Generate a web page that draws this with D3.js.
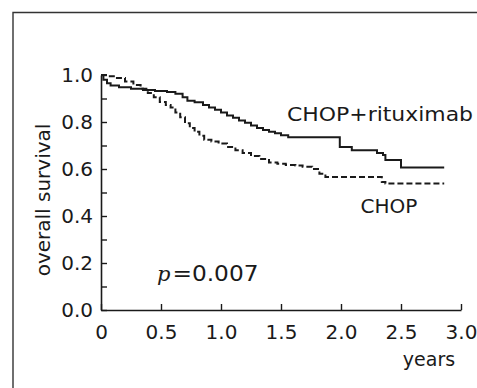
<!DOCTYPE html>
<html>
<head>
<meta charset="utf-8">
<script src="https://cdn.jsdelivr.net/npm/d3@7"></script>
<style>
  html, body { margin: 0; padding: 0; background: #fff; }
  svg { display: block; }
  text { font-family: "DejaVu Sans", sans-serif; fill: #1a1a1a; }
</style>
</head>
<body>
<svg id="chart" width="477" height="388"></svg>
<script>
// ---- data ----
const rchopTime     = [0, 0.02, 0.05, 0.08, 0.15, 0.25, 0.35, 0.45, 0.55, 0.62, 0.68, 0.72, 0.78, 0.85, 0.90, 0.95, 1.00, 1.05, 1.10, 1.15, 1.20, 1.25, 1.30, 1.35, 1.40, 1.45, 1.50, 1.56, 1.99, 2.09, 2.30, 2.35, 2.37, 2.50, 2.86];
const rchopSurvival = [1.0, 0.98, 0.965, 0.955, 0.948, 0.942, 0.936, 0.932, 0.928, 0.92, 0.905, 0.89, 0.884, 0.872, 0.862, 0.852, 0.84, 0.828, 0.818, 0.806, 0.797, 0.785, 0.775, 0.766, 0.758, 0.752, 0.744, 0.735, 0.694, 0.68, 0.668, 0.66, 0.638, 0.606, 0.606];
const chopTime      = [0, 0.05, 0.12, 0.20, 0.27, 0.33, 0.39, 0.44, 0.49, 0.54, 0.58, 0.62, 0.66, 0.70, 0.74, 0.78, 0.82, 0.86, 0.92, 0.98, 1.05, 1.12, 1.18, 1.25, 1.32, 1.40, 1.47, 1.54, 1.62, 1.68, 1.76, 1.82, 1.87, 2.34, 2.37, 2.86];
const chopSurvival  = [1.0, 0.995, 0.987, 0.972, 0.957, 0.942, 0.923, 0.905, 0.885, 0.872, 0.862, 0.84, 0.82, 0.795, 0.775, 0.758, 0.742, 0.725, 0.717, 0.708, 0.694, 0.68, 0.668, 0.655, 0.643, 0.628, 0.622, 0.617, 0.615, 0.61, 0.600, 0.58, 0.566, 0.545, 0.538, 0.538];
const xTicks = [0, 0.5, 1.0, 1.5, 2.0, 2.5, 3.0];
const xTickLabels = ["0", "0.5", "1.0", "1.5", "2.0", "2.5", "3.0"];
const yTicks = [0, 0.2, 0.4, 0.6, 0.8, 1.0];
const yTickLabels = ["0.0", "0.2", "0.4", "0.6", "0.8", "1.0"];
const yMinorTicks = [0.1, 0.3, 0.5, 0.7, 0.9];
const seriesNames = ["CHOP+rituximab", "CHOP"];
const xTitle = "years";
const yTitle = "overall survival";
const pText = "=0.007";

// ---- layout ----
const svg = d3.select("#chart");
const x = d3.scaleLinear().domain([0, 3]).range([101, 461]);
const y = d3.scaleLinear().domain([0, 1]).range([310, 75]);
const ink = "#1a1a1a";

// frame (scanned page border)
svg.append("path")
  .attr("d", "M13,388 L13,12.5 L477,12.5")
  .attr("fill", "none").attr("stroke", "#333").attr("stroke-width", 1.4);

// x axis
const xAxis = d3.axisBottom(x)
  .tickValues(xTicks)
  .tickFormat((d, i) => xTickLabels[i])
  .tickSizeInner(-6).tickSizeOuter(0).tickPadding(15);
const gx = svg.append("g").attr("transform", `translate(0,${y(0)})`).call(xAxis);
gx.select(".domain").attr("stroke", ink).attr("stroke-width", 1.6);
gx.selectAll(".tick line").attr("stroke", ink).attr("stroke-width", 1.4);
gx.selectAll(".tick text").attr("font-size", 20).attr("font-family", "DejaVu Sans").attr("fill", ink);

// y axis
const yAxis = d3.axisLeft(y)
  .tickValues(yTicks)
  .tickFormat((d, i) => yTickLabels[i])
  .tickSizeInner(-6).tickSizeOuter(0).tickPadding(8);
const gy = svg.append("g").attr("transform", `translate(${x(0)},0)`).call(yAxis);
gy.select(".domain").attr("stroke", ink).attr("stroke-width", 1.6);
gy.selectAll(".tick line").attr("stroke", ink).attr("stroke-width", 1.4);
gy.selectAll(".tick text").attr("font-size", 20).attr("font-family", "DejaVu Sans").attr("fill", ink);

// y minor ticks
const yMinor = d3.axisLeft(y).tickValues(yMinorTicks).tickFormat("").tickSizeInner(-6).tickSizeOuter(0);
const gym = svg.append("g").attr("transform", `translate(${x(0)},0)`).call(yMinor);
gym.select(".domain").remove();
gym.selectAll(".tick line").attr("stroke", ink).attr("stroke-width", 1.4);

// curves
const line = d3.line().x(d => x(d[0])).y(d => y(d[1])).curve(d3.curveStepAfter);
const rchop = rchopTime.map((t, i) => [t, rchopSurvival[i]]);
const chop = chopTime.map((t, i) => [t, chopSurvival[i]]);

svg.append("path").datum(chop)
  .attr("d", line).attr("fill", "none")
  .attr("stroke", ink).attr("stroke-width", 2).attr("stroke-dasharray", "6,3");
svg.append("path").datum(rchop)
  .attr("d", line).attr("fill", "none")
  .attr("stroke", ink).attr("stroke-width", 2);

// labels
svg.append("text").attr("x", 287).attr("y", 121)
  .attr("font-size", 20).attr("textLength", 186).attr("lengthAdjust", "spacingAndGlyphs")
  .text(seriesNames[0]);
svg.append("text").attr("x", 389).attr("y", 213).attr("text-anchor", "middle")
  .attr("font-size", 20)
  .text(seriesNames[1]);

const pt = svg.append("text").attr("x", 157).attr("y", 281).attr("font-size", 21);
pt.append("tspan").attr("font-family", "DejaVu Serif").attr("font-style", "italic").text("p");
pt.append("tspan").attr("dx", 2).attr("textLength", 86).attr("lengthAdjust", "spacingAndGlyphs").text(pText);

svg.append("text").attr("x", 429).attr("y", 366).attr("text-anchor", "middle")
  .attr("font-size", 19).text(xTitle);

svg.append("text")
  .attr("transform", "translate(50,200) rotate(-90)")
  .attr("text-anchor", "middle").attr("font-size", 20)
  .text(yTitle);
</script>
</body>
</html>
